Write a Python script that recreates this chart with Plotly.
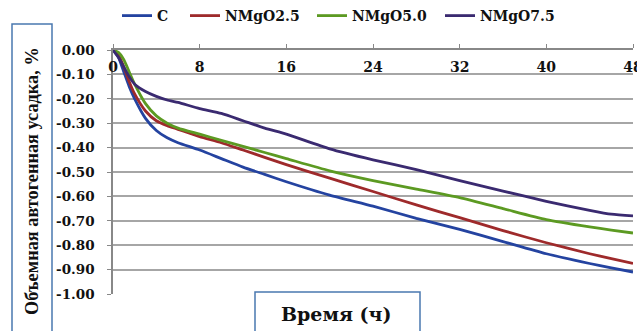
import plotly.graph_objects as go

hours = [0, 0.5, 1, 1.5, 2, 3, 4, 5, 6, 8, 10, 12, 14, 16, 20, 24, 28, 32, 36, 40, 44, 46, 48]

c_vals = [0, -0.03, -0.09, -0.15, -0.20, -0.28, -0.33, -0.36, -0.38, -0.41, -0.445, -0.48, -0.51,
          -0.54, -0.595, -0.64, -0.69, -0.735, -0.785, -0.835, -0.875, -0.893, -0.91]
mg25_vals = [0, -0.02, -0.07, -0.13, -0.18, -0.25, -0.29, -0.31, -0.325, -0.355, -0.38, -0.41, -0.44,
             -0.47, -0.525, -0.58, -0.635, -0.687, -0.74, -0.79, -0.835, -0.855, -0.875]
mg50_vals = [0, -0.01, -0.04, -0.09, -0.14, -0.22, -0.27, -0.30, -0.32, -0.345, -0.37, -0.395, -0.42,
             -0.445, -0.495, -0.535, -0.57, -0.605, -0.65, -0.695, -0.725, -0.738, -0.75]
mg75_vals = [0, -0.03, -0.07, -0.11, -0.14, -0.17, -0.19, -0.205, -0.215, -0.24, -0.26, -0.29, -0.32,
             -0.345, -0.405, -0.45, -0.49, -0.535, -0.578, -0.62, -0.657, -0.673, -0.68]

series_names = ["C", "NMgO2.5", "NMgO5.0", "NMgO7.5"]
series_vals = [c_vals, mg25_vals, mg50_vals, mg75_vals]
colors = ["#2443a0", "#9e2a2b", "#5c9a22", "#3a2a70"]

x_ticks = [0, 8, 16, 24, 32, 40, 48]
y_ticks = [0, -0.1, -0.2, -0.3, -0.4, -0.5, -0.6, -0.7, -0.8, -0.9, -1.0]
y_labels = ["0.00", "-0.10", "-0.20", "-0.30", "-0.40", "-0.50", "-0.60", "-0.70", "-0.80", "-0.90", "-1.00"]

FONT = "DejaVu Serif"
TITLE_FONT = "Liberation Serif"

L, R, T, B = 113, 4, 50, 37
PW, PH = 637 - L - R, 331 - T - B


def px(x):
    return (x - L) / PW


def py(y):
    return (331 - B - y) / PH


legend_ids = ["legend", "legend2", "legend3", "legend4"]
legend_x = [117, 185, 312, 440]

fig = go.Figure()
for name, vals, col, lid in zip(series_names, series_vals, colors, legend_ids):
    fig.add_trace(go.Scatter(x=hours, y=vals, mode="lines", name=name, legend=lid,
                             line=dict(color=col, width=2.8, shape="spline", smoothing=0.6)))

legend_style = dict(orientation="h", xref="paper", y=1.0, yref="container",
                    yanchor="top", xanchor="left",
                    font=dict(family=FONT, size=14, color="#111111", weight="bold"),
                    itemwidth=30, bgcolor="rgba(0,0,0,0)")
legends = {lid: dict(x=px(lx), **legend_style) for lid, lx in zip(legend_ids, legend_x)}

fig.update_layout(
    width=637, height=331,
    margin=dict(l=L, r=R, t=T, b=B, autoexpand=False),
    paper_bgcolor="white", plot_bgcolor="white",
    font=dict(family=FONT, size=13, color="#111111"),
    showlegend=True,
    xaxis=dict(range=[0, 48], side="top", tickvals=x_ticks, ticktext=[str(v) for v in x_ticks],
               ticklabelposition="inside", ticklabeloverflow="allow", ticks="outside", ticklen=4,
               tickcolor="#888888", automargin=False, ticklabelstandoff=12,
               showline=True, linecolor="#888888", linewidth=1.5, showgrid=False, zeroline=False,
               tickfont=dict(family=FONT, size=14, color="#111111", weight="bold"),
               anchor="y", fixedrange=True),
    yaxis=dict(range=[-1.0, 0], tickvals=y_ticks, ticktext=y_labels, ticks="outside", ticklen=4,
               tickcolor="#888888", showline=True, linecolor="#888888", linewidth=1.5,
               showgrid=True, gridcolor="#a6a6a6", gridwidth=1.5, zeroline=False, automargin=False,
               tickfont=dict(family=FONT, size=13.5, color="#111111", weight="bold"),
               ticklabelstandoff=10, fixedrange=True),
    **legends,
)

# Axis title boxes
fig.add_shape(type="rect", xref="paper", yref="paper",
              x0=px(12), x1=px(52), y0=py(345), y1=py(24),
              line=dict(color="#4a78b0", width=1.5), fillcolor="white", layer="above")
fig.add_annotation(xref="paper", yref="paper", x=px(32), y=py(181),
                   text="<b>Объемная автогенная усадка, %</b>", textangle=-90, showarrow=False,
                   font=dict(family=TITLE_FONT, size=18.3, color="#111111"),
                   xanchor="center", yanchor="middle")

fig.add_shape(type="rect", xref="paper", yref="paper",
              x0=px(255), x1=px(420), y0=py(345), y1=py(292),
              line=dict(color="#4a78b0", width=1.5), fillcolor="white", layer="above")
fig.add_annotation(xref="paper", yref="paper", x=px(336), y=py(314),
                   text="<b>Время (ч)</b>", showarrow=False,
                   font=dict(family=FONT, size=19, color="#111111"), xanchor="center", yanchor="middle")

fig.write_html("out.html", config={"displayModeBar": False},
               post_script="document.body.style.margin='0';document.body.style.padding='0';")
